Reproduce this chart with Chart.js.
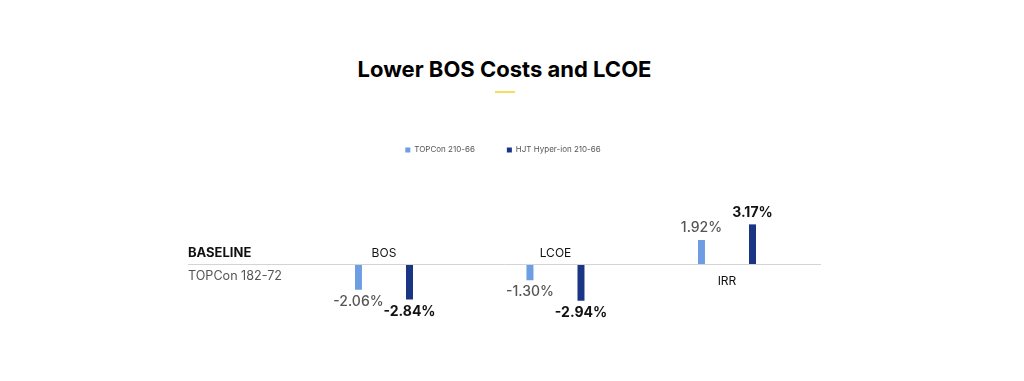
<!DOCTYPE html>
<html lang="en">
<head>
    <meta charset="UTF-8">
    <title>Lower BOS Costs and LCOE</title>
    <script src="https://cdn.jsdelivr.net/npm/chart.js"></script>
    <style>
        html, body { margin: 0; padding: 0; background: #fff; }
        body { width: 1024px; height: 381px; position: relative; overflow: hidden; font-family: Inter, sans-serif; }
        h2 { position: absolute; top: 55px; left: 0; width: 1009px; margin: 0; text-align: center; font-size: 22px; font-weight: 700; color: #000; line-height: 28px; }
        .bar-accent { position: absolute; top: 91px; left: 495px; width: 20px; height: 2px; background: #fbdb5a; }
        .chart-box { position: absolute; left: 0; top: 0; width: 1024px; height: 381px; }
    </style>
</head>
<body>
    <h2>Lower BOS Costs and LCOE</h2>
    <div class="bar-accent"></div>
    <div class="chart-box"><canvas id="bosChart"></canvas></div>

<script>
const categories = ["BOS", "LCOE", "IRR"];
const topconValues = [-2.06, -1.30, 1.92];
const hjtValues = [-2.84, -2.94, 3.17];
const seriesNames = ["TOPCon 210-66", "HJT Hyper-ion 210-66"];
const baselineTitle = "BASELINE";
const baselineSub = "TOPCon 182-72";

const lightBlue = "#6f9de3";
const darkBlue = "#1b3585";

function toPoints(values) {
    return values.map((v, i) => ({ x: i + 1, y: v }));
}

// baseline line, side labels, category names and value labels
const annotations = {
    id: "annotations",
    afterDatasetsDraw(chart) {
        const ctx = chart.ctx;
        const xs = chart.scales.x;
        const ys = chart.scales.y;
        const zero = ys.getPixelForValue(0);
        const leftX = xs.getPixelForValue(-0.143);

        ctx.save();
        ctx.strokeStyle = "#d4d4d4";
        ctx.lineWidth = 1;
        ctx.beginPath();
        ctx.moveTo(leftX, zero + 0.5);
        ctx.lineTo(xs.getPixelForValue(3.548), zero + 0.5);
        ctx.stroke();

        ctx.textBaseline = "middle";
        ctx.textAlign = "left";
        ctx.fillStyle = "#111";
        ctx.font = "bold 13px Inter";
        ctx.fillText(baselineTitle, leftX, zero - 11);
        ctx.fillStyle = "#555";
        ctx.font = "12.6px Inter";
        ctx.fillText(baselineSub, leftX, zero + 12);

        // category names on the side opposite the bars
        ctx.textAlign = "center";
        ctx.fillStyle = "#111";
        ctx.font = "12px Inter";
        categories.forEach((c, i) => {
            const up = topconValues[i] < 0 || hjtValues[i] < 0;
            ctx.fillText(c, xs.getPixelForValue(i + 1), up ? zero - 11 : zero + 17);
        });

        // value labels
        chart.data.datasets.forEach((ds, di) => {
            const meta = chart.getDatasetMeta(di);
            ctx.fillStyle = di === 0 ? "#555" : "#111";
            ctx.font = (di === 0 ? "500 " : "bold ") + "14px Inter";
            meta.data.forEach((bar, i) => {
                const v = ds.data[i].y;
                const y = v < 0 ? bar.y + 12 : bar.y - 12;
                ctx.fillText(v.toFixed(2) + "%", bar.x, y);
            });
        });
        ctx.restore();
    }
};

new Chart(document.getElementById("bosChart"), {
    type: "bar",
    data: {
        datasets: [
            { label: seriesNames[0], data: toPoints(topconValues), backgroundColor: lightBlue },
            { label: seriesNames[1], data: toPoints(hjtValues), backgroundColor: darkBlue }
        ]
    },
    options: {
        responsive: true,
        maintainAspectRatio: false,
        animation: false,
        categoryPercentage: 0.595,
        barPercentage: 0.137,
        layout: { padding: { top: 114, bottom: 67, left: 0, right: 18 } },
        scales: {
            x: {
                type: "linear",
                display: false,
                offset: false,
                min: -1.239,
                max: 4.627,
                ticks: { stepSize: 1, includeBounds: false }
            },
            y: { display: false, min: -4, max: 8 }
        },
        plugins: {
            legend: {
                position: "top",
                labels: {
                    boxWidth: 5,
                    boxHeight: 5,
                    padding: 32,
                    color: "#555",
                    font: { family: "Inter", size: 8 }
                }
            },
            tooltip: { enabled: false }
        }
    },
    plugins: [annotations]
});
</script>
</body>
</html>
